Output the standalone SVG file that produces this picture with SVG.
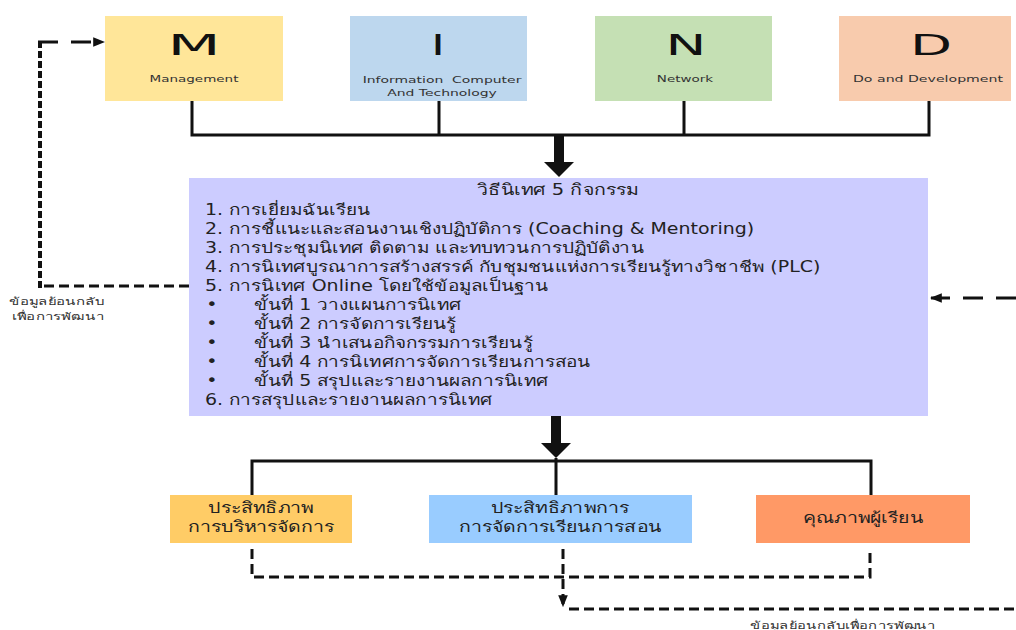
<svg xmlns="http://www.w3.org/2000/svg" width="1016" height="630" viewBox="0 0 1016 630">
<style>
.big{font-family:"DejaVu Sans","Liberation Sans",sans-serif;font-size:28px;fill:#111;text-anchor:middle}
.sub{font-family:"DejaVu Sans","Liberation Sans",sans-serif;font-size:9px;fill:#333;text-anchor:middle}
.th{font-family:"DejaVu Sans","Noto Sans","Liberation Sans",sans-serif;font-size:15px;fill:#222}
.thc{font-family:"DejaVu Sans","Noto Sans","Liberation Sans",sans-serif;font-size:15px;fill:#222;text-anchor:middle}
.lbl{font-family:"DejaVu Sans","Noto Sans","Liberation Sans",sans-serif;font-size:10px;fill:#333}
.solid{fill:none;stroke:#111;stroke-width:3}
.dash{fill:none;stroke:#111;stroke-width:3;stroke-dasharray:10 5}
.dashv{fill:none;stroke:#111;stroke-width:4;stroke-dasharray:7 3}
.dashl{fill:none;stroke:#111;stroke-width:3;stroke-dasharray:20 13}
</style>
<defs>
<marker id="ah" viewBox="0 0 10 10" refX="9" refY="5" markerWidth="4" markerHeight="4" orient="auto" markerUnits="strokeWidth">
<path d="M0,1 L10,5 L0,9 z" fill="#111"/>
</marker>
</defs>

<g id="node-M">
<rect x="105" y="16" width="178" height="85" fill="#ffe699"/>
<text class="big" transform="translate(194,55) scale(2.2,1)" x="0" y="0">M</text>
<text class="sub" transform="translate(194,0) scale(1.5,1)" x="0" y="82">Management</text>
</g>
<g id="node-I">
<rect x="350" y="16" width="177" height="85" fill="#bdd7ee"/>
<text class="big" transform="translate(438,55) scale(1.7,1)" x="0" y="0">I</text>
<text class="sub" transform="translate(442,0) scale(1.55,1)" x="0" y="83" xml:space="preserve">Information  Computer</text>
<text class="sub" transform="translate(442,0) scale(1.55,1)" x="0" y="96">And Technology</text>
</g>
<g id="node-N">
<rect x="595" y="16" width="177" height="85" fill="#c5e0b4"/>
<text class="big" transform="translate(686,55) scale(1.95,1)" x="0" y="0">N</text>
<text class="sub" transform="translate(685,0) scale(1.5,1)" x="0" y="82">Network</text>
</g>
<g id="node-D">
<rect x="839" y="16" width="172" height="85" fill="#f8cbad"/>
<text class="big" transform="translate(931,55) scale(1.95,1)" x="0" y="0">D</text>
<text class="sub" transform="translate(928,0) scale(1.57,1)" x="0" y="82">Do and Development</text>
</g>

<g id="node-main">
<rect x="189" y="178" width="739" height="238" fill="#ccccff"/>
<text class="thc" transform="translate(558,0) scale(1.3,1)" x="0" y="195">วิธีนิเทศ 5 กิจกรรม</text>
<g transform="translate(205,0) scale(1.265,1) translate(-205,0)">
<text class="th" x="205" y="215">1. การเยี่ยมฉันเรียน</text>
<text class="th" x="205" y="234">2. การชี้แนะและสอนงานเชิงปฏิบัติการ (Coaching &amp; Mentoring)</text>
<text class="th" x="205" y="253">3. การประชุมนิเทศ ติดตาม และทบทวนการปฏิบัติงาน</text>
<text class="th" x="205" y="272">4. การนิเทศบูรณาการสร้างสรรค์ กับชุมชนแห่งการเรียนรู้ทางวิชาชีพ (PLC)</text>
<text class="th" x="205" y="291">5. การนิเทศ Online โดยใช้ข้อมูลเป็นฐาน</text>
<text class="th" x="206" y="310">•</text><text class="th" x="244" y="310">ขั้นที่ 1 วางแผนการนิเทศ</text>
<text class="th" x="206" y="329">•</text><text class="th" x="244" y="329">ขั้นที่ 2 การจัดการเรียนรู้</text>
<text class="th" x="206" y="348">•</text><text class="th" x="244" y="348">ขั้นที่ 3 นำเสนอกิจกรรมการเรียนรู้</text>
<text class="th" x="206" y="367">•</text><text class="th" x="244" y="367">ขั้นที่ 4 การนิเทศการจัดการเรียนการสอน</text>
<text class="th" x="206" y="386">•</text><text class="th" x="244" y="386">ขั้นที่ 5 สรุปและรายงานผลการนิเทศ</text>
<text class="th" x="205" y="405">6. การสรุปและรายงานผลการนิเทศ</text>
</g>
</g>

<g id="node-admin">
<rect x="170" y="495" width="182" height="48" fill="#ffcc66"/>
<g transform="translate(261,0) scale(1.3,1)">
<text class="thc" x="0" y="513">ประสิทธิภาพ</text>
<text class="thc" x="0" y="532">การบริหารจัดการ</text>
</g>
</g>
<g id="node-teach">
<rect x="429" y="495" width="263" height="48" fill="#99ccff"/>
<g transform="translate(560,0) scale(1.3,1)">
<text class="thc" x="0" y="513">ประสิทธิภาพการ</text>
<text class="thc" x="0" y="532">การจัดการเรียนการสอน</text>
</g>
</g>
<g id="node-quality">
<rect x="756" y="495" width="214" height="48" fill="#ff9966"/>
<text class="thc" transform="translate(863,0) scale(1.3,1)" x="0" y="523">คุณภาพผู้เรียน</text>
</g>

<g id="labels">
<g transform="translate(9,0) scale(1.5,1) translate(-9,0)">
<text class="lbl" x="9" y="305">ข้อมูลย้อนกลับ</text>
<text class="lbl" x="11" y="320">เพื่อการพัฒนา</text>
</g>
<text class="lbl" transform="translate(750,0) scale(1.48,1)" x="0" y="629">ข้อมูลย้อนกลับเพื่อการพัฒนา</text>
</g>

<g id="connectors">
<path class="solid" d="M192 101 V135 H929 V101 M439 101 V135 M684 101 V135"/>
<rect x="554" y="135" width="10" height="27" fill="#111"/>
<polygon points="544,162 574,162 559,177" fill="#111"/>
<rect x="551" y="416" width="10" height="27" fill="#111"/>
<polygon points="541,443 571,443 556,458" fill="#111"/>
<path class="solid" d="M252 495 V461 H871 V495 M556 458 V495"/>
<path class="dash" d="M189 286 H42"/>
<path class="dashv" d="M40 288 V42"/>
<path class="dashl" d="M38 42 H104" marker-end="url(#ah)"/>
<path class="dashl" d="M1016 298 H931" marker-end="url(#ah)"/>
<path class="dash" d="M252 549 V577 H870 V549"/>
<path class="dash" d="M563 549 V606" marker-end="url(#ah)"/>
<path class="dash" d="M569 609 H1016"/>
</g>
</svg>
